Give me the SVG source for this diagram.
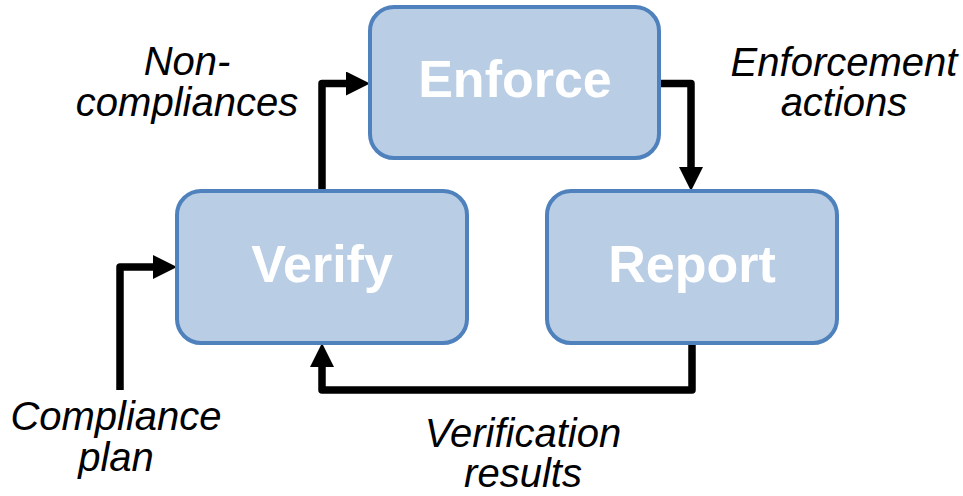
<svg xmlns="http://www.w3.org/2000/svg" width="963" height="496" viewBox="0 0 963 496">
  <defs>
    <marker id="arrow" viewBox="0 0 24 24" markerWidth="24" markerHeight="24" markerUnits="userSpaceOnUse" refX="0" refY="12" orient="auto">
      <path d="M0,0 L24,12 L0,24 z" fill="#000"/>
    </marker>
    <style>
      .box { fill: #B9CDE5; stroke: #4F81BD; stroke-width: 4; }
      .boxlabel { font-family: "Liberation Sans", Arial, sans-serif; font-weight: bold; font-size: 52px; fill: #FFFFFF; text-anchor: middle; }
      .conn { fill: none; stroke: #000; stroke-width: 7.5; stroke-linejoin: round; marker-end: url(#arrow); }
      .label { font-family: "Liberation Sans", Arial, sans-serif; font-style: italic; font-size: 40px; fill: #000; text-anchor: middle; }
    </style>
  </defs>
  <rect width="963" height="496" fill="#FFFFFF"/>

  <g id="connectors">
    <path class="conn" d="M322,191 L322,83.5 L346,83.5"/>
    <path class="conn" d="M658,83.5 L691,83.5 L691,167"/>
    <path class="conn" d="M120,390 L120,267 L153,267"/>
    <path class="conn" d="M692,345 L692,390 L322,390 L322,367"/>
  </g>

  <g id="enforce">
    <rect class="box" x="370" y="7" width="289" height="151" rx="24" ry="24"/>
    <text class="boxlabel" x="515" y="97">Enforce</text>
  </g>
  <g id="verify">
    <rect class="box" x="177" y="191" width="290" height="152" rx="24" ry="24"/>
    <text class="boxlabel" x="322" y="282">Verify</text>
  </g>
  <g id="report">
    <rect class="box" x="547" y="191" width="290" height="152" rx="24" ry="24"/>
    <text class="boxlabel" x="692" y="282">Report</text>
  </g>

  <g id="labels">
    <text class="label"><tspan x="187" y="75">Non-</tspan><tspan x="187" y="116">compliances</tspan></text>
    <text class="label"><tspan x="844" y="76">Enforcement</tspan><tspan x="844" y="116">actions</tspan></text>
    <text class="label"><tspan x="116" y="430">Compliance</tspan><tspan x="116" y="471">plan</tspan></text>
    <text class="label"><tspan x="523" y="447">Verification</tspan><tspan x="523" y="487">results</tspan></text>
  </g>
</svg>
